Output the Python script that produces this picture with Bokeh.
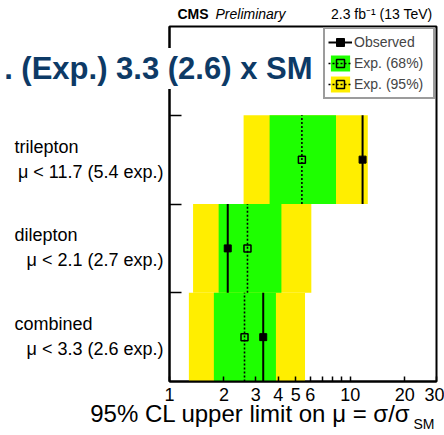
from bokeh.plotting import figure
from bokeh.models import (Range1d, FixedTicker, PrintfTickFormatter,
                          Legend, LegendItem, ColumnDataSource)
from bokeh.core.properties import value
from bokeh.embed import file_html
from bokeh.resources import INLINE

# ---- data ----
categories = ["combined", "dilepton", "trilepton"]
limit_labels = ["\u03bc < 3.3 (2.6 exp.)", "\u03bc < 2.1 (2.7 exp.)", "\u03bc < 11.7 (5.4 exp.)"]
observed = [3.3, 2.1, 11.7]
expected = [2.6, 2.7, 5.4]
exp68_lo = [1.76, 1.87, 3.58]
exp68_hi = [3.88, 4.16, 8.34]
exp95_lo = [1.28, 1.35, 2.57]
exp95_hi = [5.62, 6.09, 12.5]
x_ticks = [1, 2, 3, 4, 5, 6, 10, 20, 30]
x_minor_ticks = [7, 8, 9]
title_text = ". (Exp.) 3.3 (2.6) x SM"
x_label = "95% CL upper limit on \u03bc = \u03c3/\u03c3"
x_label_sub = "SM"
lumi_text = "2.3 fb\u207b\u00b9 (13 TeV)"

GREEN = "#1eff00"
YELLOW = "#ffee00"
NAVY = "#0d3a66"
FONT = "Liberation Sans"

X_MIN, X_MAX = 1, 30
Y_MIN, Y_MAX = 0, 4

n = len(categories)
src = ColumnDataSource(dict(
    cat=categories,
    lim=limit_labels,
    xl=[X_MIN] * n,
    y0=[i for i in range(n)],
    y1=[i + 1 for i in range(n)],
    ym=[i + 0.5 for i in range(n)],
    obs=observed, exp=expected,
    lo68=exp68_lo, hi68=exp68_hi, lo95=exp95_lo, hi95=exp95_hi,
))

p = figure(width=444, height=435, x_axis_type="log",
           x_range=Range1d(X_MIN, X_MAX), y_range=Range1d(Y_MIN, Y_MAX),
           output_backend="svg", toolbar_location=None, title=None,
           min_border_left=169, min_border_right=8,
           min_border_top=26, min_border_bottom=54)
p.background_fill_color = "white"
p.border_fill_color = "white"
p.grid.visible = False
p.outline_line_color = "black"
p.outline_line_width = 2

r95 = p.quad(left="lo95", right="hi95", bottom="y0", top="y1", source=src,
             fill_color=YELLOW, line_color=None)
r68 = p.quad(left="lo68", right="hi68", bottom="y0", top="y1", source=src,
             fill_color=GREEN, line_color=None)
rexp = p.segment(x0="exp", x1="exp", y0="y0", y1="y1", source=src,
                 line_color="black", line_width=1.6, line_dash="2 2")
rexpm = p.scatter(x="exp", y="ym", source=src, marker="square", size=7,
                  fill_alpha=0, line_color="black", line_width=1.5)
robs = p.segment(x0="obs", x1="obs", y0="y0", y1="y1", source=src,
                 line_color="black", line_width=2)
robsm = p.scatter(x="obs", y="ym", source=src, marker="square", size=7,
                  fill_color="black", line_color="black")

# axes
xa = p.xaxis[0]
xa.ticker = FixedTicker(ticks=x_ticks, minor_ticks=x_minor_ticks)
xa.formatter = PrintfTickFormatter(format="%d")
xa.axis_line_width = 2
xa.major_tick_in = 5
xa.major_tick_out = 0
xa.minor_tick_in = 5
xa.minor_tick_out = 0
xa.major_tick_line_width = 1.5
xa.minor_tick_line_width = 1.5
xa.major_label_standoff = 6
xa.major_label_text_font = FONT
xa.major_label_text_font_size = "18px"
xa.major_label_text_color = "black"

ya = p.yaxis[0]
ya.ticker = FixedTicker(ticks=[1, 2, 3], minor_ticks=[])
ya.axis_line_width = 2
ya.major_tick_in = 12
ya.major_tick_out = 0
ya.major_tick_line_width = 1.5
ya.major_label_overrides = {1: "", 2: "", 3: ""}

# legend
legend = Legend(items=[
    LegendItem(label="Observed", renderers=[robs, robsm]),
    LegendItem(label="Exp. (68%)", renderers=[r68, rexp, rexpm]),
    LegendItem(label="Exp. (95%)", renderers=[r95, rexp, rexpm]),
], location="top_right", margin=1, padding=3, spacing=1,
    label_height=20, glyph_height=20, glyph_width=24, label_standoff=2,
    label_width=76, label_text_font=FONT, label_text_font_size="14px",
    border_line_color="#3a3a3a", border_line_width=2,
    background_fill_color="white", background_fill_alpha=1)
p.add_layout(legend)

# texts outside the frame: text glyphs anchored on the frame edges
common = dict(text_font=value(FONT), text_baseline="alphabetic", level="overlay")
p.text(x="xl", y="ym", text="cat", source=src, x_offset=-155, y_offset=-13,
       text_font_size="18px", text_align="left", text_color="black", **common)
p.text(x="xl", y="ym", text="lim", source=src, x_offset=-6, y_offset=12,
       text_font_size="18px", text_align="right", text_color="black", **common)

p.text(x=[X_MIN], y=[Y_MAX], text=["CMS"], x_offset=8, y_offset=-13,
       text_font_size="14px", text_font_style="bold", text_align="left",
       text_color="black", **common)
p.text(x=[X_MIN], y=[Y_MAX], text=["Preliminary"], x_offset=46, y_offset=-13,
       text_font_size="14px", text_font_style="italic", text_align="left",
       text_color="black", **common)
p.text(x=[X_MAX], y=[Y_MAX], text=[lumi_text], x_offset=-4, y_offset=-13,
       text_font_size="14px", text_align="right", text_color="black", **common)

p.text(x=[X_MIN], y=[Y_MIN], text=[x_label], x_offset=241, y_offset=32,
       text_font_size="24px", text_align="right", text_color="black", **common)
p.text(x=[X_MIN], y=[Y_MIN], text=[x_label_sub], x_offset=244, y_offset=42,
       text_font_size="14px", text_align="left", text_color="black", **common)

# overlaid summary title with white box
p.text(x=[X_MIN], y=[Y_MAX], text=[title_text], x_offset=146, y_offset=42,
       text_font_size="31px", text_font_style="bold", text_align="right",
       text_color=NAVY, background_fill_color="white", background_fill_alpha=1,
       padding=3, **common)

open("out.html", "w").write(file_html(p, INLINE))
